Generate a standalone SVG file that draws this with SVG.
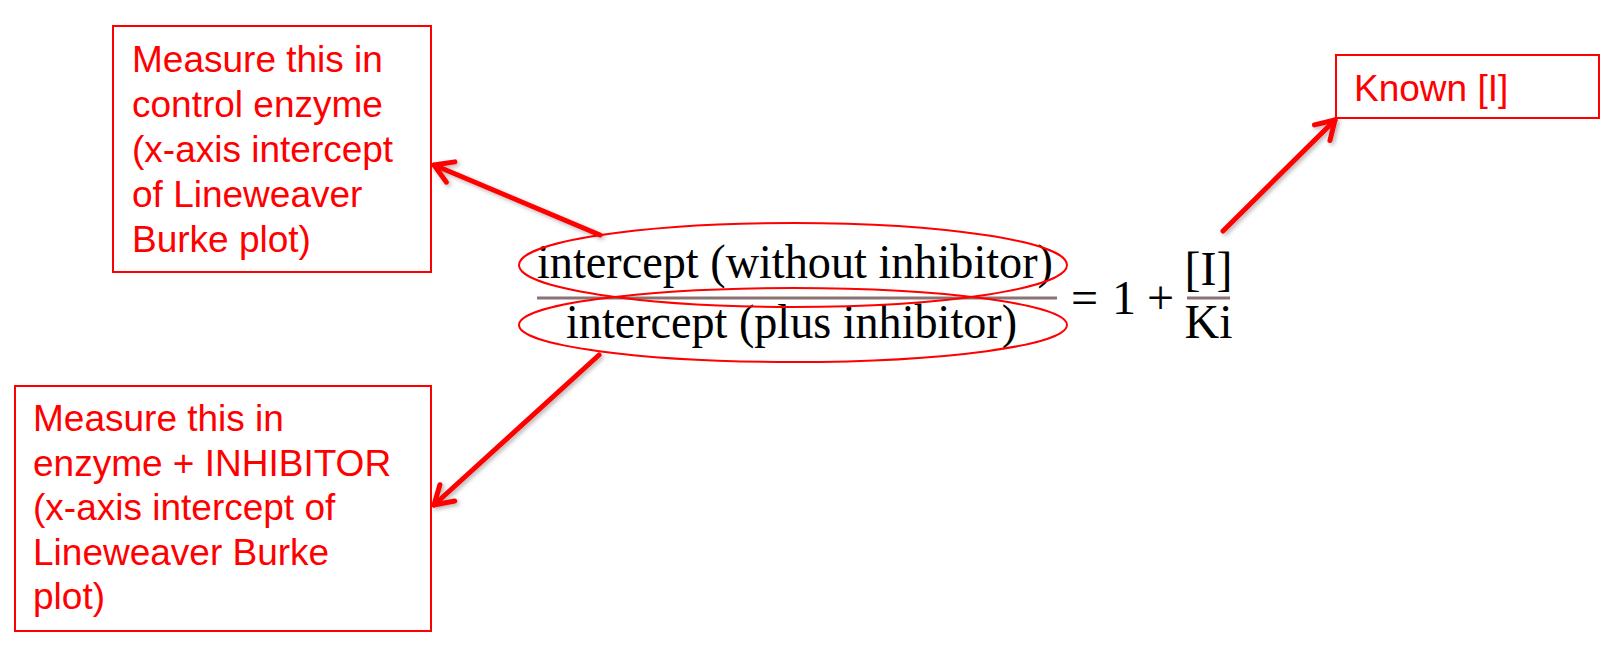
<svg xmlns="http://www.w3.org/2000/svg" width="1618" height="663" viewBox="0 0 1618 663">
<style>
  .box { fill: #ffffff; stroke: #ff0000; stroke-width: 2; }
  .lbl { font-family: "Liberation Sans", Arial, sans-serif; font-size: 37px; fill: #ff0000; }
  .eq { font-family: "Liberation Serif", "Times New Roman", serif; font-size: 48px; fill: #000000; }
  .ring { fill: none; stroke: #ff0000; stroke-width: 2; }
  .bar { stroke: #8c7373; stroke-width: 3; }
  .conn { fill: none; stroke: #ff0000; stroke-width: 5; stroke-linecap: round; marker-end: url(#arrow); filter: url(#shadow); }
</style>
<defs>
  <marker id="arrow" markerUnits="userSpaceOnUse" markerWidth="40" markerHeight="40" viewBox="-30 -20 40 40" refX="0" refY="0" orient="auto">
    <path d="M-18,-11 L0,0 L-18,11" fill="none" stroke="#ff0000" stroke-width="5" stroke-linecap="round" stroke-linejoin="round"/>
  </marker>
  <filter id="shadow" x="-20%" y="-20%" width="140%" height="140%">
    <feDropShadow dx="2" dy="2" stdDeviation="2" flood-color="#000000" flood-opacity="0.3"/>
  </filter>
</defs>

<g id="node-control">
  <rect class="box" x="113" y="26" width="318" height="246"/>
  <text class="lbl" x="132" y="72">Measure this in</text>
  <text class="lbl" x="132" y="117">control enzyme</text>
  <text class="lbl" x="132" y="162">(x-axis intercept</text>
  <text class="lbl" x="132" y="207">of Lineweaver</text>
  <text class="lbl" x="132" y="252">Burke plot)</text>
</g>

<g id="node-inhibitor">
  <rect class="box" x="15" y="386" width="416" height="245"/>
  <text class="lbl" x="33" y="431">Measure this in</text>
  <text class="lbl" x="33" y="475.5">enzyme + INHIBITOR</text>
  <text class="lbl" x="33" y="520">(x-axis intercept of</text>
  <text class="lbl" x="33" y="564.5">Lineweaver Burke</text>
  <text class="lbl" x="33" y="609">plot)</text>
</g>

<g id="node-known">
  <rect class="box" x="1336" y="55" width="263" height="63"/>
  <text class="lbl" x="1354" y="101">Known [I]</text>
</g>

<g id="node-equation">
  <text class="eq" x="537" y="278" textLength="516" lengthAdjust="spacingAndGlyphs">intercept (without inhibitor)</text>
  <line class="bar" x1="537" y1="298" x2="1057" y2="298"/>
  <text class="eq" x="566" y="338" textLength="451" lengthAdjust="spacingAndGlyphs">intercept (plus inhibitor)</text>
  <text class="eq" x="1071" y="314">=</text>
  <text class="eq" x="1112" y="314">1</text>
  <text class="eq" x="1147" y="314">+</text>
  <text class="eq" x="1208.5" y="285" text-anchor="middle">[I]</text>
  <line class="bar" x1="1187" y1="298" x2="1230" y2="298"/>
  <text class="eq" x="1208.5" y="338" text-anchor="middle">Ki</text>
</g>

<g id="node-ellipses">
  <ellipse class="ring" cx="793" cy="265" rx="274" ry="42"/>
  <ellipse class="ring" cx="793" cy="325" rx="274" ry="37"/>
</g>

<g id="connectors">
  <line class="conn" x1="600" y1="235" x2="434" y2="165"/>
  <line class="conn" x1="599" y1="355" x2="434" y2="505"/>
  <line class="conn" x1="1223" y1="231" x2="1335" y2="120"/>
</g>
</svg>
